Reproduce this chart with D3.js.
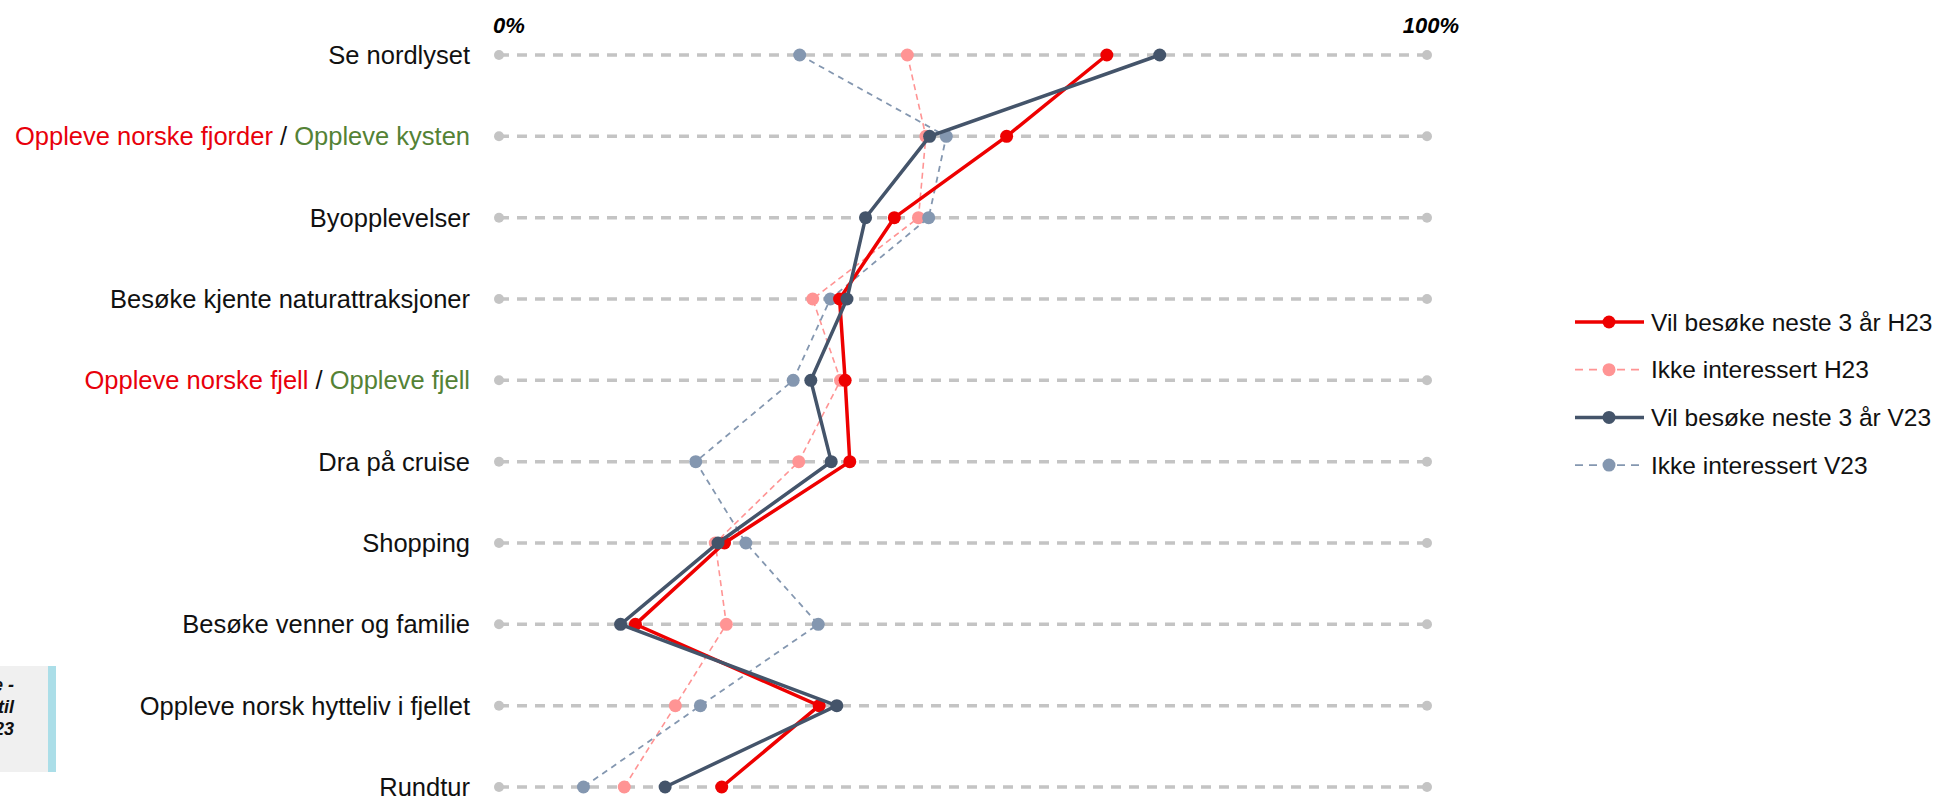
<!DOCTYPE html>
<html>
<head>
<meta charset="utf-8">
<script src="https://cdn.jsdelivr.net/npm/d3@7"></script>
<style>
  body { margin: 0; background: #fff; }
  svg { display: block; font-family: "Liberation Sans", Arial, sans-serif; }
</style>
</head>
<body>
<div id="chart-container"></div>
<script>
(function () {
    'use strict';

    var width = 1939;
    var height = 799;

    // categories, top to bottom; "H23 / V23" wording split by ' / '
    var categories = [
        'Se nordlyset',
        'Oppleve norske fjorder / Oppleve kysten',
        'Byopplevelser',
        'Besøke kjente naturattraksjoner',
        'Oppleve norske fjell / Oppleve fjell',
        'Dra på cruise',
        'Shopping',
        'Besøke venner og familie',
        'Oppleve norsk hytteliv i fjellet',
        'Rundtur'
    ];

    var vilH23 = [65.5, 54.7, 42.6, 36.7, 37.3, 37.8, 24.3, 14.7, 34.5, 24.0];
    var ikkeH23 = [44.0, 46.0, 45.2, 33.8, 36.8, 32.3, 23.3, 24.5, 19.0, 13.5];
    var vilV23 = [71.2, 46.4, 39.5, 37.5, 33.6, 35.8, 23.6, 13.1, 36.4, 17.9];
    var ikkeV23 = [32.4, 48.2, 46.3, 35.7, 31.7, 21.2, 26.6, 34.4, 21.7, 9.1];

    var seriesNames = ['Vil besøke neste 3 år H23', 'Ikke interessert H23', 'Vil besøke neste 3 år V23', 'Ikke interessert V23'];
    var tickLabels = ['0%', '100%'];
    var noteLines = ['Interesse -', 'Besøk til', 'H23 og V23'];

    var series = [
        { name: seriesNames[1], values: ikkeH23, color: '#ff9494', width: 1.6, dash: '6 4' },
        { name: seriesNames[3], values: ikkeV23, color: '#8497b0', width: 1.8, dash: '6 5' },
        { name: seriesNames[0], values: vilH23, color: '#ee0000', width: 3.5, dash: null },
        { name: seriesNames[2], values: vilV23, color: '#44546a', width: 3.5, dash: null }
    ];
    var legendOrder = [2, 0, 3, 1];

    var x = d3.scaleLinear().domain([0, 100]).range([499, 1427]);
    var y = d3.scalePoint().domain(categories).range([55, 787]);

    var svg = d3.select('#chart-container')
        .append('svg')
        .attr('width', width)
        .attr('height', height);

    // side note box, mostly outside the frame on the left
    svg.append('rect').attr('x', 0).attr('y', 666).attr('width', 48).attr('height', 106).attr('fill', '#f0f0f0');
    svg.append('rect').attr('x', 48).attr('y', 666).attr('width', 8).attr('height', 106).attr('fill', '#abdee8');
    svg.append('g')
        .selectAll('text')
        .data(noteLines)
        .enter()
        .append('text')
        .attr('x', 14)
        .attr('y', function (d, i) { return 691 + i * 22; })
        .attr('text-anchor', 'end')
        .style('font-size', '18px')
        .style('font-weight', 'bold')
        .style('font-style', 'italic')
        .style('fill', '#111')
        .text(function (d) { return d; });

    // grid rows
    var grid = svg.append('g').attr('class', 'grid');
    grid.selectAll('line')
        .data(categories)
        .enter()
        .append('line')
        .attr('x1', x(0))
        .attr('x2', x(100))
        .attr('y1', function (d) { return y(d); })
        .attr('y2', function (d) { return y(d); })
        .style('stroke', '#c4c4c4')
        .style('stroke-width', 3.5)
        .style('stroke-dasharray', '10 8');
    [0, 100].forEach(function (v) {
        grid.selectAll('circle.end' + v)
            .data(categories)
            .enter()
            .append('circle')
            .attr('class', 'end' + v)
            .attr('cx', x(v))
            .attr('cy', function (d) { return y(d); })
            .attr('r', 5)
            .style('fill', '#c4c4c4');
    });

    // top axis labels
    svg.append('text')
        .attr('x', x(0) - 6).attr('y', 33)
        .style('font-size', '22px').style('font-weight', 'bold').style('font-style', 'italic')
        .text(tickLabels[0]);
    svg.append('text')
        .attr('x', x(100) + 4).attr('y', 33)
        .attr('text-anchor', 'middle')
        .style('font-size', '22px').style('font-weight', 'bold').style('font-style', 'italic')
        .text(tickLabels[1]);

    // category labels
    var labels = svg.append('g').attr('class', 'labels');
    categories.forEach(function (c) {
        var t = labels.append('text')
            .attr('x', 470)
            .attr('y', y(c))
            .attr('dy', '0.35em')
            .attr('text-anchor', 'end')
            .style('font-size', '25.5px')
            .style('fill', '#111');
        var parts = c.split(' / ');
        if (parts.length === 2) {
            t.append('tspan').style('fill', '#e8000b').text(parts[0]);
            t.append('tspan').style('fill', '#111').text(' / ');
            t.append('tspan').style('fill', '#548235').text(parts[1]);
        } else {
            t.text(c);
        }
    });

    // series
    var line = d3.line()
        .x(function (d) { return x(d); })
        .y(function (d, i) { return y(categories[i]); });

    series.forEach(function (s) {
        var g = svg.append('g').attr('class', 'series');
        g.append('path')
            .attr('d', line(s.values))
            .style('fill', 'none')
            .style('stroke', s.color)
            .style('stroke-width', s.width)
            .style('stroke-dasharray', s.dash);
        g.selectAll('circle')
            .data(s.values)
            .enter()
            .append('circle')
            .attr('cx', function (d) { return x(d); })
            .attr('cy', function (d, i) { return y(categories[i]); })
            .attr('r', 6.5)
            .style('fill', s.color);
    });

    // legend
    var legend = svg.append('g').attr('class', 'legend');
    legendOrder.forEach(function (idx, i) {
        var s = series[idx];
        var ly = 322 + i * 47.7;
        legend.append('line')
            .attr('x1', 1575).attr('x2', 1644)
            .attr('y1', ly).attr('y2', ly)
            .style('stroke', s.color)
            .style('stroke-width', s.dash ? 1.8 : 3.5)
            .style('stroke-dasharray', s.dash ? '8 6' : null);
        legend.append('circle')
            .attr('cx', 1609).attr('cy', ly).attr('r', 6.5)
            .style('fill', s.color);
        legend.append('text')
            .attr('x', 1651).attr('y', ly).attr('dy', '0.35em')
            .style('font-size', '24.5px')
            .style('fill', '#111')
            .text(s.name);
    });
}());
</script>
</body>
</html>
